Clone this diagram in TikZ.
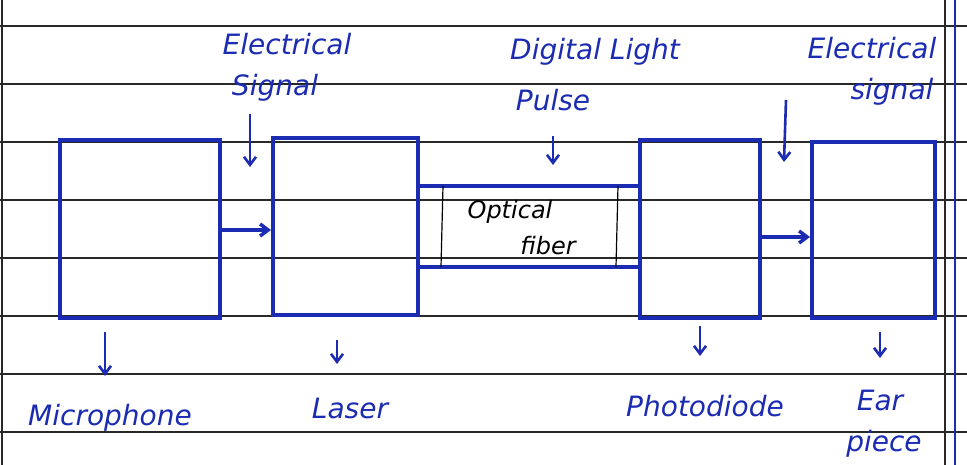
\documentclass[tikz,border=0pt]{standalone}
\usepackage{fontspec}
\setmainfont{DejaVu Sans}
\usetikzlibrary{arrows.meta}
\definecolor{ink}{RGB}{28,44,178}
\definecolor{rule}{RGB}{40,40,40}
\tikzset{
  x=1pt, y=-1pt,
  paperline/.style={draw=rule, line width=1.6pt},
  unit/.style={draw=ink, line width=4pt, minimum width=#1, inner sep=0pt, line join=miter},
  flow/.style={draw=ink, line width=3.5pt, -{Straight Barb[length=8pt,width=12pt]}},
  tick/.style={draw=ink, line width=2.6pt, -{Straight Barb[length=8pt,width=12pt]}},
  hand/.style={text=ink, font=\fontsize{28}{30}\selectfont\itshape, inner sep=1pt},
  fibertext/.style={text=black, font=\fontsize{24}{26}\selectfont\itshape, inner sep=1pt}
}
\begin{document}
\begin{tikzpicture}
\useasboundingbox (0,0) rectangle (967,465);
\fill[white] (0,0) rectangle (967,465);
% ruled paper
\foreach \yy in {26,84,142,200,258,316,374,432}{
  \draw[paperline] (0,\yy) -- (967,\yy);
}
\draw[rule, line width=1.4pt] (2,0) -- (2,465);
\draw[rule, line width=1.4pt] (945,0) -- (945,465);
\draw[ink, line width=2.5pt] (955,0) -- (955,465);
% boxes
\node[unit=160pt, minimum height=178pt] (mic) at (140,229) {};
\node[unit=145pt, minimum height=177pt] (laser) at (345.5,226.5) {};
\node[unit=120pt, minimum height=178pt] (pd) at (700,229) {};
\node[unit=123pt, minimum height=176pt] (ear) at (873.5,230) {};
% optical fiber
\coordinate (ftl) at (laser.east |- 0,186);
\coordinate (fbl) at (laser.east |- 0,267);
\coordinate (ftr) at (pd.west |- 0,186);
\coordinate (fbr) at (pd.west |- 0,267);
\draw[ink, line width=3.5pt] (ftl) -- (ftr);
\draw[ink, line width=3.5pt] (fbl) -- (fbr);
\coordinate (c1t) at (443,186); \coordinate (c1b) at (441,267);
\coordinate (c2t) at (618,186); \coordinate (c2b) at (616,267);
\draw[black, line width=1.2pt] (c1t) -- (c1b);
\draw[black, line width=1.2pt] (c2t) -- (c2b);
\node[fibertext] (fib1) at (510,212) {Optical};
\node[fibertext] (fib2) at (548,246) {fiber};
% flow arrows
\draw[flow] (mic.east |- 0,230) -- (laser.west |- 0,230);
\draw[flow] (pd.east |- 0,237) -- (ear.west |- 0,237);
% top labels
\node[hand] (es1a) at (287,44) {Electrical};
\node[hand] (es1b) at (275,88) {Signal};
\node[hand] (dlpa) at (595,52) {Digital Light};
\node[hand] (dlpb) at (553,100) {Pulse};
\node[hand] (es2a) at (872,48) {Electrical};
\node[hand] (es2b) at (892,92) {signal};
\coordinate (a1s) at (250,114); \coordinate (a1e) at (250,167);
\coordinate (a2s) at (553,136); \coordinate (a2e) at (553,165);
\coordinate (a3s) at (786,100); \coordinate (a3e) at (784,162);
\draw[tick] (a1s) -- (a1e);
\draw[tick] (a2s) -- (a2e);
\draw[tick] (a3s) -- (a3e);
% bottom labels
\node[hand] (lmic) at (110,418) {Microphone};
\node[hand] (llas) at (350,408) {Laser};
\node[hand] (lpd) at (705,406) {Photodiode};
\node[hand] (lear1) at (880,400) {Ear};
\node[hand] (lear2) at (884,444) {piece};
\coordinate (b1) at (105,332);
\coordinate (b2) at (337,340);
\coordinate (b3) at (700,326);
\coordinate (b4) at (880,332);
\draw[tick] (b1) -- ++(0,44);
\draw[tick] (b2) -- ++(0,24);
\draw[tick] (b3) -- ++(0,30);
\draw[tick] (b4) -- ++(0,26);
\end{tikzpicture}
\end{document}
